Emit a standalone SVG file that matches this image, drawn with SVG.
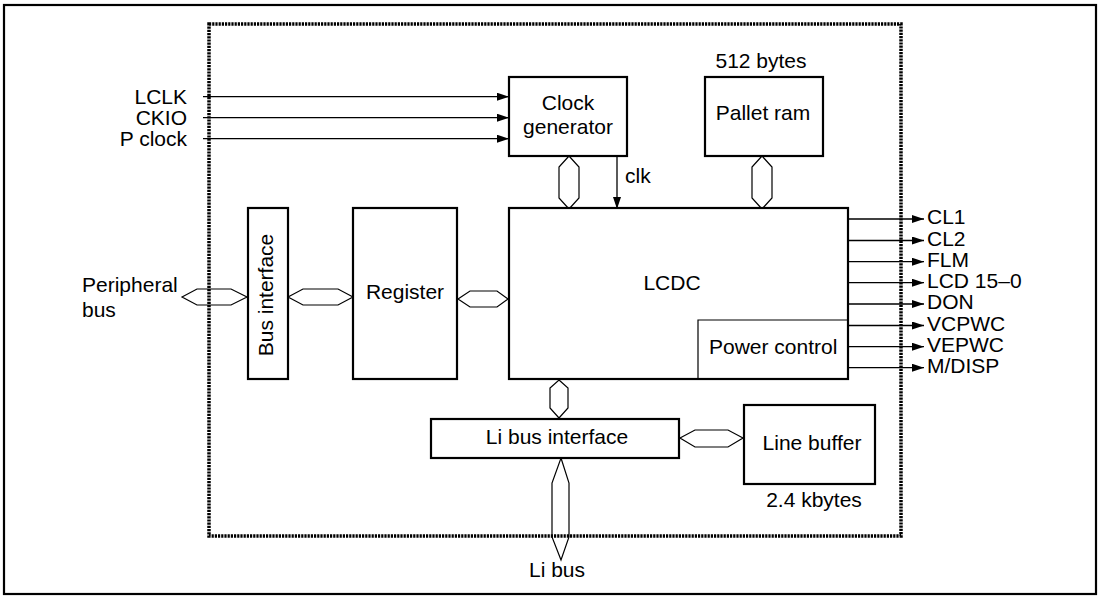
<svg xmlns="http://www.w3.org/2000/svg" width="1103" height="599" viewBox="0 0 1103 599">
<defs>
<style>
.box{fill:#fff;stroke:#000;stroke-width:2.2}
.thin{fill:none;stroke:#000;stroke-width:1.2}
.hex{fill:#fff;stroke:#000;stroke-width:1.2}
.wire{fill:none;stroke:#000;stroke-width:1.3}
.t{font-family:"Liberation Sans",Arial,sans-serif;font-size:21px;fill:#000}
.m{text-anchor:middle}
.e{text-anchor:end}
</style>
<marker id="ah" markerWidth="12" markerHeight="8" refX="12" refY="4" orient="auto" markerUnits="userSpaceOnUse">
<path d="M0,0 L12,4 L0,8 Z" fill="#000"/>
</marker>
</defs>
<rect x="0" y="0" width="1103" height="599" fill="#fff"/>
<rect x="4" y="5" width="1092" height="589" fill="none" stroke="#000" stroke-width="2.2"/>

<g id="connectors">
<line class="wire" x1="203" y1="96.7" x2="509" y2="96.7" marker-end="url(#ah)"/>
<line class="wire" x1="203" y1="117.7" x2="509" y2="117.7" marker-end="url(#ah)"/>
<line class="wire" x1="203" y1="138.7" x2="509" y2="138.7" marker-end="url(#ah)"/>
<line class="wire" x1="617" y1="156" x2="617" y2="209" marker-end="url(#ah)"/>
<line class="wire" x1="848" y1="219" x2="924" y2="219" marker-end="url(#ah)"/>
<line class="wire" x1="848" y1="240.5" x2="924" y2="240.5" marker-end="url(#ah)"/>
<line class="wire" x1="848" y1="261.7" x2="924" y2="261.7" marker-end="url(#ah)"/>
<line class="wire" x1="848" y1="282.7" x2="924" y2="282.7" marker-end="url(#ah)"/>
<line class="wire" x1="848" y1="304" x2="924" y2="304" marker-end="url(#ah)"/>
<line class="wire" x1="848" y1="325.5" x2="924" y2="325.5" marker-end="url(#ah)"/>
<line class="wire" x1="848" y1="346.7" x2="924" y2="346.7" marker-end="url(#ah)"/>
<line class="wire" x1="848" y1="367.7" x2="924" y2="367.7" marker-end="url(#ah)"/>
<path class="hex" d="M182,297 L197,289 L231,289 L247,297 L231,305 L197,305 Z"/>
<path class="hex" d="M288,297 L303,289 L338,289 L353,297 L338,305 L303,305 Z"/>
<path class="hex" d="M458,299 L470,291 L497,291 L508,299 L497,307 L470,307 Z"/>
<path class="hex" d="M569,156 L579,167 L579,198 L569,209 L559,198 L559,167 Z"/>
<path class="hex" d="M762,156 L772,167 L772,198 L762,209 L752,198 L752,167 Z"/>
<path class="hex" d="M559,380 L568,388 L568,408 L559,418 L550,408 L550,388 Z"/>
<path class="hex" d="M680,438 L695,430 L728,430 L743,438 L728,447 L695,447 Z"/>
<path class="hex" d="M561,458 L569,483 L569,537 L561,560 L552,537 L552,483 Z"/>
</g>

<rect x="209" y="24" width="692" height="512" fill="none" stroke="#000" stroke-width="3.5" stroke-dasharray="2.2 1"/>

<g id="labels-in">
<text class="t e" x="187" y="104">LCLK</text>
<text class="t e" x="187" y="125">CKIO</text>
<text class="t e" x="187" y="146">P clock</text>
<text class="t" x="82" y="292">Peripheral</text>
<text class="t" x="82" y="317">bus</text>
<text class="t" x="625" y="183">clk</text>
<text class="t m" x="557" y="577">Li bus</text>
</g>

<g id="labels-out">
<text class="t" x="927" y="224">CL1</text>
<text class="t" x="927" y="245.5">CL2</text>
<text class="t" x="927" y="267">FLM</text>
<text class="t" x="927" y="288">LCD 15–0</text>
<text class="t" x="927" y="309">DON</text>
<text class="t" x="927" y="330.5">VCPWC</text>
<text class="t" x="927" y="352">VEPWC</text>
<text class="t" x="927" y="373">M/DISP</text>
</g>

<g id="clock-generator">
<rect class="box" x="509" y="77" width="118" height="79"/>
<text class="t m" x="568" y="110">Clock</text>
<text class="t m" x="568" y="134">generator</text>
</g>

<g id="pallet-ram">
<rect class="box" x="705" y="77" width="118" height="79"/>
<text class="t m" x="761" y="68">512 bytes</text>
<text class="t m" x="763" y="120">Pallet ram</text>
</g>

<g id="bus-interface">
<rect class="box" x="248" y="208" width="40" height="171"/>
<text class="t m" transform="translate(273,295) rotate(-90)">Bus interface</text>
</g>

<g id="register">
<rect class="box" x="353" y="208" width="104" height="171"/>
<text class="t m" x="405" y="299">Register</text>
</g>

<g id="lcdc">
<rect class="box" x="509" y="208" width="339" height="171"/>
<text class="t m" x="672" y="290">LCDC</text>
</g>

<g id="power-control">
<path class="thin" d="M698,379 L698,320 L848,320"/>
<text class="t" x="709" y="354">Power control</text>
</g>

<g id="li-bus-interface">
<rect class="box" x="431" y="419" width="248" height="39"/>
<text class="t m" x="557" y="444">Li bus interface</text>
</g>

<g id="line-buffer">
<rect class="box" x="744" y="405" width="131" height="79"/>
<text class="t m" x="812" y="450">Line buffer</text>
<text class="t m" x="814" y="507">2.4 kbytes</text>
</g>
</svg>
